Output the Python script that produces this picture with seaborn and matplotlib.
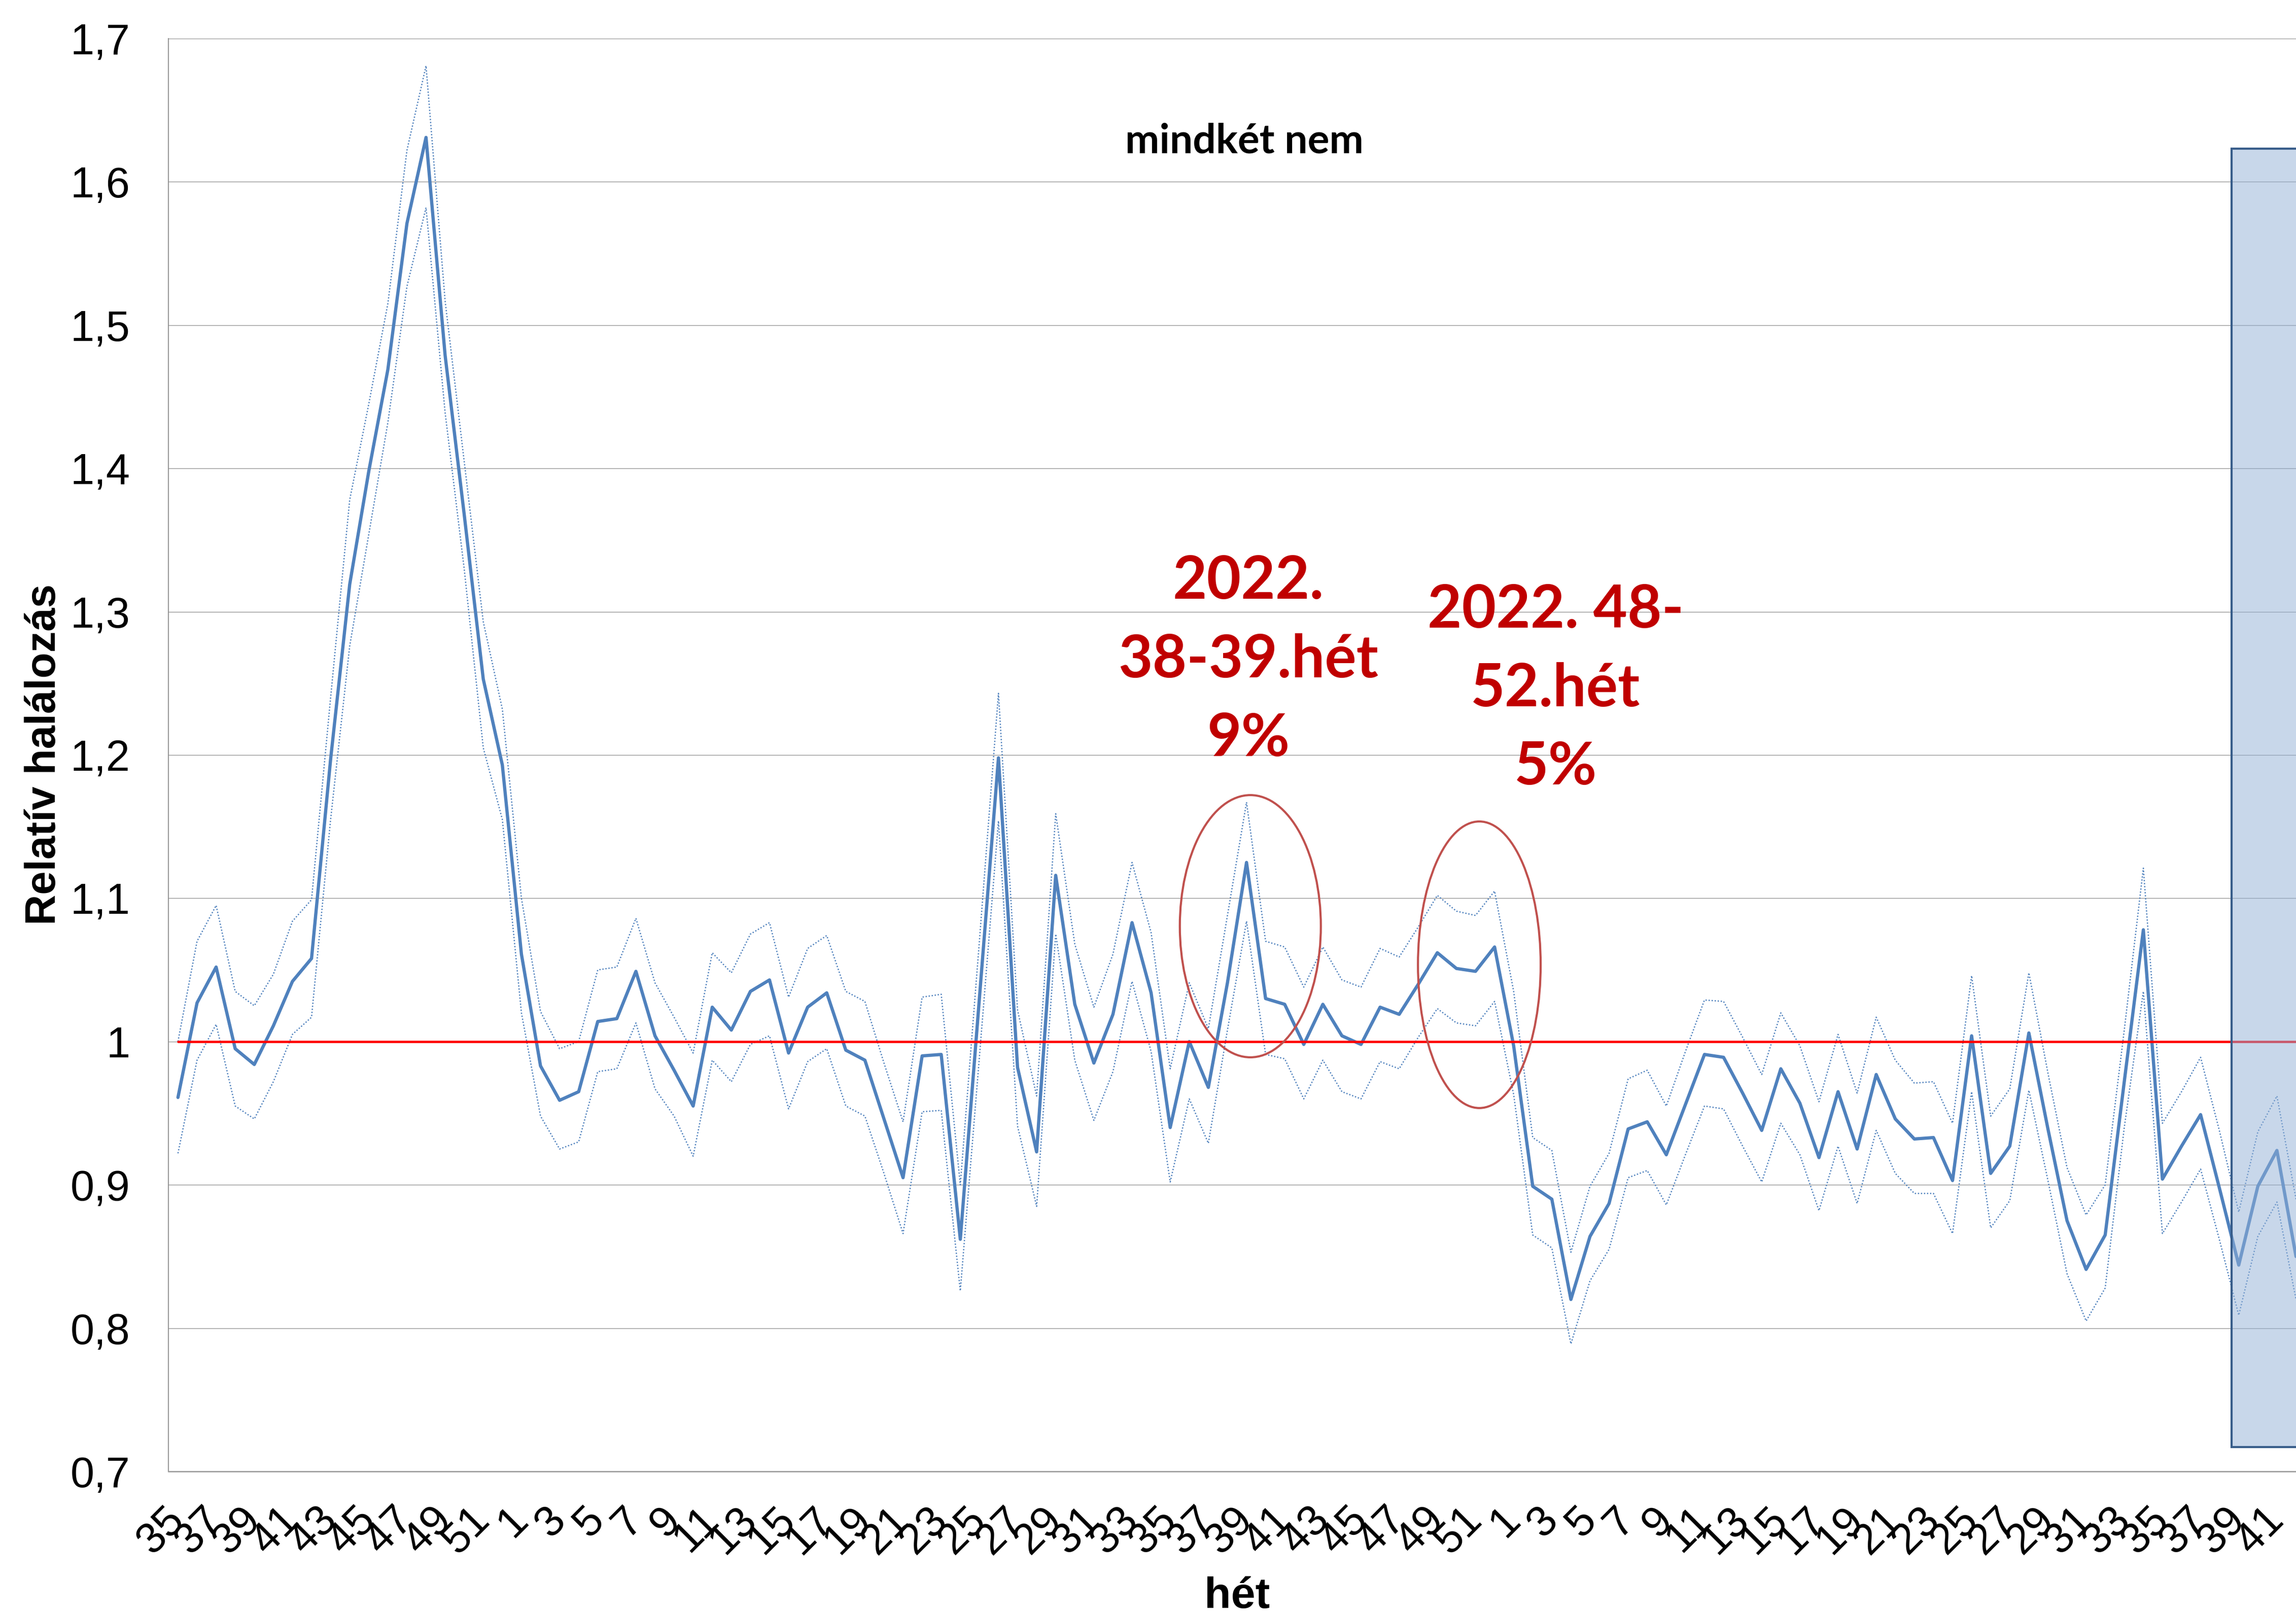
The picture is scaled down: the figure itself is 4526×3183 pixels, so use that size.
import numpy as np
import pandas as pd
import matplotlib
matplotlib.use("Agg")
import matplotlib.pyplot as plt
import seaborn as sns
from matplotlib.patches import Ellipse, Rectangle
from matplotlib.ticker import FixedLocator, FixedFormatter, NullFormatter
from matplotlib.colors import to_rgba

# ---------------- data ----------------
# weeks: 2021 w35-52, 2022 w1-52, 2023 w1-42
weeks = list(range(35, 53)) + list(range(1, 53)) + list(range(1, 43))

main = [0.961, 1.027, 1.052, 0.995, 0.984, 1.011, 1.042, 1.058, 1.197, 1.319,
        1.398, 1.469, 1.571, 1.631, 1.479, 1.368, 1.253, 1.193, 1.061, 0.983,
        0.959, 0.965, 1.014, 1.016, 1.049, 1.004, 0.980, 0.955, 1.024, 1.008,
        1.035, 1.043, 0.992, 1.024, 1.034, 0.994, 0.987, 0.946, 0.905, 0.990,
        0.991, 0.862, 1.030, 1.198, 0.982, 0.923, 1.116, 1.026, 0.985, 1.019,
        1.083, 1.034, 0.940, 1.000, 0.968, 1.041, 1.125, 1.030, 1.026, 0.998,
        1.026, 1.004, 0.998, 1.024, 1.019, 1.040, 1.062, 1.051, 1.049, 1.066,
        0.997, 0.899, 0.890, 0.820, 0.864, 0.887, 0.939, 0.944, 0.921, 0.956,
        0.991, 0.989, 0.964, 0.938, 0.981, 0.957, 0.919, 0.965, 0.925, 0.977,
        0.946, 0.932, 0.933, 0.903, 1.004, 0.908, 0.927, 1.006, 0.939, 0.875,
        0.841, 0.865, 0.972, 1.078, 0.904, 0.927, 0.949, 0.897, 0.844, 0.899,
        0.924, 0.850]

upper = [1.000, 1.070, 1.095, 1.035, 1.025, 1.047, 1.084, 1.099, 1.240, 1.378,
         1.445, 1.515, 1.622, 1.681, 1.517, 1.405, 1.293, 1.232, 1.100, 1.021,
         0.995, 1.000, 1.050, 1.052, 1.086, 1.041, 1.017, 0.992, 1.062, 1.048,
         1.075, 1.083, 1.031, 1.065, 1.074, 1.035, 1.028, 0.985, 0.944, 1.031,
         1.033, 0.900, 1.070, 1.243, 1.022, 0.962, 1.159, 1.068, 1.024, 1.061,
         1.125, 1.076, 0.981, 1.041, 1.009, 1.088, 1.167, 1.070, 1.066, 1.038,
         1.066, 1.043, 1.038, 1.065, 1.059, 1.080, 1.102, 1.091, 1.088, 1.105,
         1.035, 0.933, 0.924, 0.853, 0.899, 0.922, 0.974, 0.980, 0.955, 0.993,
         1.029, 1.028, 1.003, 0.977, 1.020, 0.997, 0.958, 1.005, 0.964, 1.017,
         0.987, 0.971, 0.972, 0.943, 1.046, 0.948, 0.967, 1.048, 0.978, 0.912,
         0.879, 0.900, 1.008, 1.121, 0.943, 0.965, 0.989, 0.937, 0.881, 0.937,
         0.962, 0.890]

lower = [0.922, 0.987, 1.012, 0.955, 0.946, 0.972, 1.005, 1.017, 1.155, 1.276,
         1.354, 1.432, 1.527, 1.582, 1.439, 1.330, 1.205, 1.155, 1.020, 0.948,
         0.925, 0.930, 0.979, 0.981, 1.013, 0.967, 0.948, 0.920, 0.987, 0.972,
         0.998, 1.004, 0.953, 0.986, 0.995, 0.955, 0.948, 0.908, 0.866, 0.951,
         0.952, 0.826, 0.989, 1.154, 0.941, 0.885, 1.075, 0.987, 0.945, 0.979,
         1.042, 0.993, 0.902, 0.960, 0.929, 1.008, 1.084, 0.991, 0.988, 0.960,
         0.987, 0.965, 0.960, 0.986, 0.981, 1.003, 1.023, 1.013, 1.011, 1.028,
         0.963, 0.865, 0.856, 0.789, 0.833, 0.855, 0.905, 0.910, 0.886, 0.921,
         0.955, 0.953, 0.927, 0.902, 0.943, 0.921, 0.882, 0.927, 0.887, 0.938,
         0.908, 0.894, 0.894, 0.866, 0.965, 0.870, 0.889, 0.966, 0.903, 0.838,
         0.805, 0.828, 0.940, 1.035, 0.866, 0.888, 0.911, 0.861, 0.809, 0.864,
         0.888, 0.820]

baseline_value = 1.0

yticks = [0.7, 0.8, 0.9, 1.0, 1.1, 1.2, 1.3, 1.4, 1.5, 1.6, 1.7]
ytick_labels = ["0,7", "0,8", "0,9", "1", "1,1", "1,2", "1,3", "1,4", "1,5", "1,6", "1,7"]

title_text = "mindkét nem"
xlabel_text = "hét"
ylabel_text = "Relatív halálozás"
annot_texts = ["2022.\n38-39.hét\n9%", "2022. 48-\n52.hét\n5%"]
annot_pos = [(56.1, 1.266), (72.2, 1.246)]
ellipse_specs = [(56.2, 1.0805, 7.39, 0.183), (68.2, 1.0536, 6.43, 0.200)]
highlight_start, highlight_low, highlight_high = 107.63, 0.717, 1.623

# ---------------- figure ----------------
sns.set_style("white")
plt.rcParams["font.family"] = ["Liberation Sans", "DejaVu Sans"]
plt.rcParams["text.color"] = "black"
plt.rcParams["axes.labelcolor"] = "black"
plt.rcParams["xtick.labelcolor"] = "black"
plt.rcParams["ytick.labelcolor"] = "black"

W, H, DPI = 4526, 3183, 100
fig = plt.figure(figsize=(W / DPI, H / DPI), dpi=DPI)
left_px, top_px, bottom_px = 332, 76, 2900
ax = fig.add_axes([left_px / W, (H - bottom_px) / H, (W - left_px) / W, (bottom_px - top_px) / H])

idx = np.arange(len(weeks))
df = pd.DataFrame({"idx": idx, "main": main, "upper": upper, "lower": lower,
                   "base": np.full(len(weeks), baseline_value)})

blue = "#4F81BD"
dot_style = (0, (1, 1.4))
sns.lineplot(data=df, x="idx", y="upper", ax=ax, color=blue, lw=1.8,
             linestyle=dot_style, zorder=3)
sns.lineplot(data=df, x="idx", y="lower", ax=ax, color=blue, lw=1.8,
             linestyle=dot_style, zorder=3)
sns.lineplot(data=df, x="idx", y="main", ax=ax, color=blue, lw=4.6, zorder=4)
sns.lineplot(data=df, x="idx", y="base", ax=ax, color="#FF0000", lw=3.3, zorder=5,
             solid_capstyle="round")

ax.set_xlim(-0.5, 111.0)
ax.set_ylim(0.7, 1.7)

# grid
ax.yaxis.grid(True, color="#969696", lw=1.0)
ax.xaxis.grid(False)
ax.set_axisbelow(True)

# spines
for s in ["top", "right"]:
    ax.spines[s].set_visible(False)
ax.spines["left"].set_color("#8C8C8C")
ax.spines["left"].set_linewidth(1.3)
ax.spines["bottom"].set_color("#9A9A9A")
ax.spines["bottom"].set_linewidth(1.8)

# y ticks
ax.yaxis.set_major_locator(FixedLocator(yticks))
ax.yaxis.set_major_formatter(FixedFormatter(ytick_labels))
ax.tick_params(axis="y", which="major", direction="out", length=18.5, width=1.0,
               color="#8C8C8C", labelcolor="black", pad=36, labelsize=61)

# x ticks: centres (inside) with labels every other week, boundaries (outside)
ax.xaxis.set_major_locator(FixedLocator(idx))
ax.xaxis.set_major_formatter(FixedFormatter([str(w) if i % 2 == 0 else "" for i, w in zip(idx, weeks)]))
ax.xaxis.set_minor_locator(FixedLocator(np.arange(len(weeks) + 1) - 0.5))
ax.xaxis.set_minor_formatter(NullFormatter())
ax.tick_params(axis="x", which="major", direction="in", length=13.5, width=1.0,
               color="#8C8C8C", labelcolor="black", pad=60, labelsize=61)
ax.tick_params(axis="x", which="minor", direction="out", length=18, width=1.0,
               color="#8C8C8C")
for lab in ax.get_xticklabels():
    lab.set_rotation(45)
    lab.set_rotation_mode("anchor")
    lab.set_ha("right")
    lab.set_va("center")

ax.set_xlabel("")
ax.set_ylabel("")

# highlight rectangle (semi-transparent fill over the lines)
rect = Rectangle((highlight_start, highlight_low), 30, highlight_high - highlight_low,
                 facecolor=to_rgba("#93B1D7", 0.5), edgecolor="#385D8A", lw=3.0, zorder=6)
ax.add_patch(rect)

# ellipses
for (cx, cy, w, h) in ellipse_specs:
    ax.add_patch(Ellipse((cx, cy), w, h, fill=False, edgecolor="#C0504D", lw=3.0, zorder=7))

# annotations
for txt, (x, y) in zip(annot_texts, annot_pos):
    ax.text(x, y, txt, ha="center", va="center", color="#C00000", fontsize=84,
            fontweight="bold", family=["Lato", "DejaVu Sans"], linespacing=1.55, zorder=8)

# title and axis labels
fig.text(2453 / W, 1 - 278 / H, title_text, ha="center", va="center", fontsize=58,
         fontweight="bold", family=["Lato", "DejaVu Sans"], color="black")
fig.text(2439 / W, 1 - 3147 / H, xlabel_text, ha="center", va="center", fontsize=62,
         fontweight="bold", color="black")
fig.text(87 / W, 1 - 1487 / H, ylabel_text, ha="center", va="center", rotation=90,
         fontsize=60, fontweight="bold", color="black")

fig.savefig("out.png", dpi=DPI)
